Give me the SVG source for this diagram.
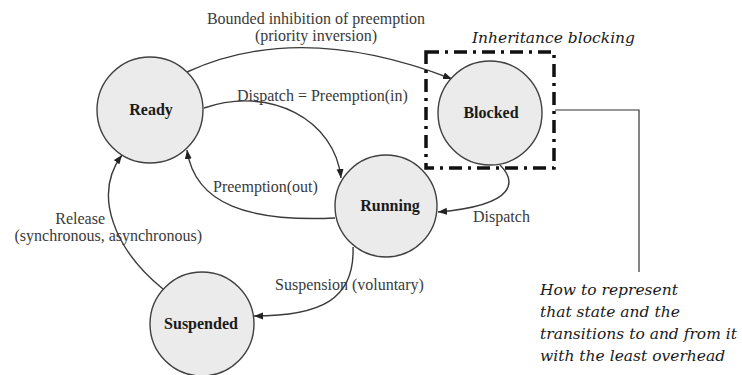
<svg xmlns="http://www.w3.org/2000/svg" width="742" height="375" viewBox="0 0 742 375">
<defs>
<style>
.node circle{fill:#ebebeb;stroke:#404040;stroke-width:1.4}
.node text{font-family:"Liberation Serif",serif;font-weight:bold;font-size:16px;fill:#1a1a1a;text-anchor:middle}
.edge{fill:none;stroke:#3a3a3a;stroke-width:1.4;marker-end:url(#arr)}
.lbl{font-family:"Liberation Serif",serif;font-size:16px;fill:#3a3a3a}
.note{font-family:"DejaVu Serif",serif;font-style:italic;font-size:15.5px;fill:#1a1a1a}
</style>
<marker id="arr" markerUnits="userSpaceOnUse" markerWidth="10" markerHeight="8" refX="9" refY="3.5" orient="auto">
<path d="M0,0 L9,3.5 L0,7 z" fill="#222"/>
</marker>
</defs>
<rect width="742" height="375" fill="#fff"/>
<g id="connectors">
<path class="edge" d="M187,72 Q300,20 452,79"/>
<path class="edge" d="M204,108 C270,85 335,120 341,178"/>
<path class="edge" d="M335,218 C250,222 195,205 187,150"/>
<path class="edge" d="M500,165 C515,180 520,205 438,212"/>
<path class="edge" d="M353,247 C355,300 320,316 254,316"/>
<path class="edge" d="M163,289 C115,250 92,195 122,155"/>
<path d="M555,110 H639 V272" fill="none" stroke="#333" stroke-width="1.2"/>
</g>
<g id="labels">
<text class="lbl" x="316" y="24" text-anchor="middle">Bounded inhibition of preemption</text>
<text class="lbl" x="316" y="41" text-anchor="middle">(priority inversion)</text>
<text class="lbl" x="237" y="101">Dispatch = Preemption(in)</text>
<text class="lbl" x="213" y="192">Preemption(out)</text>
<text class="lbl" x="473" y="222">Dispatch</text>
<text class="lbl" x="275" y="290">Suspension (voluntary)</text>
<text class="lbl" x="105" y="224" text-anchor="end">Release</text>
<text class="lbl" x="202" y="241" text-anchor="end">(synchronous, asynchronous)</text>
</g>
<g id="Ready" class="node"><circle cx="150" cy="110" r="53"/><text x="151" y="115">Ready</text></g>
<g id="Blocked" class="node"><circle cx="490" cy="113" r="52"/><text x="491" y="118">Blocked</text></g>
<g id="Running" class="node"><circle cx="386" cy="206" r="51"/><text x="390" y="211">Running</text></g>
<g id="Suspended" class="node"><circle cx="202" cy="324" r="52"/><text x="201" y="329">Suspended</text></g>
<g id="inheritance-box">
<rect x="426" y="52" width="128" height="116" fill="none" stroke="#111" stroke-width="3.5" stroke-dasharray="13 6 3 6"/>
<text class="note" x="472" y="43">Inheritance blocking</text>
</g>
<g id="note">
<text class="note" x="540" y="295">How to represent</text>
<text class="note" x="540" y="317">that state and the</text>
<text class="note" x="540" y="339">transitions to and from it</text>
<text class="note" x="540" y="361">with the least overhead</text>
</g>
</svg>
